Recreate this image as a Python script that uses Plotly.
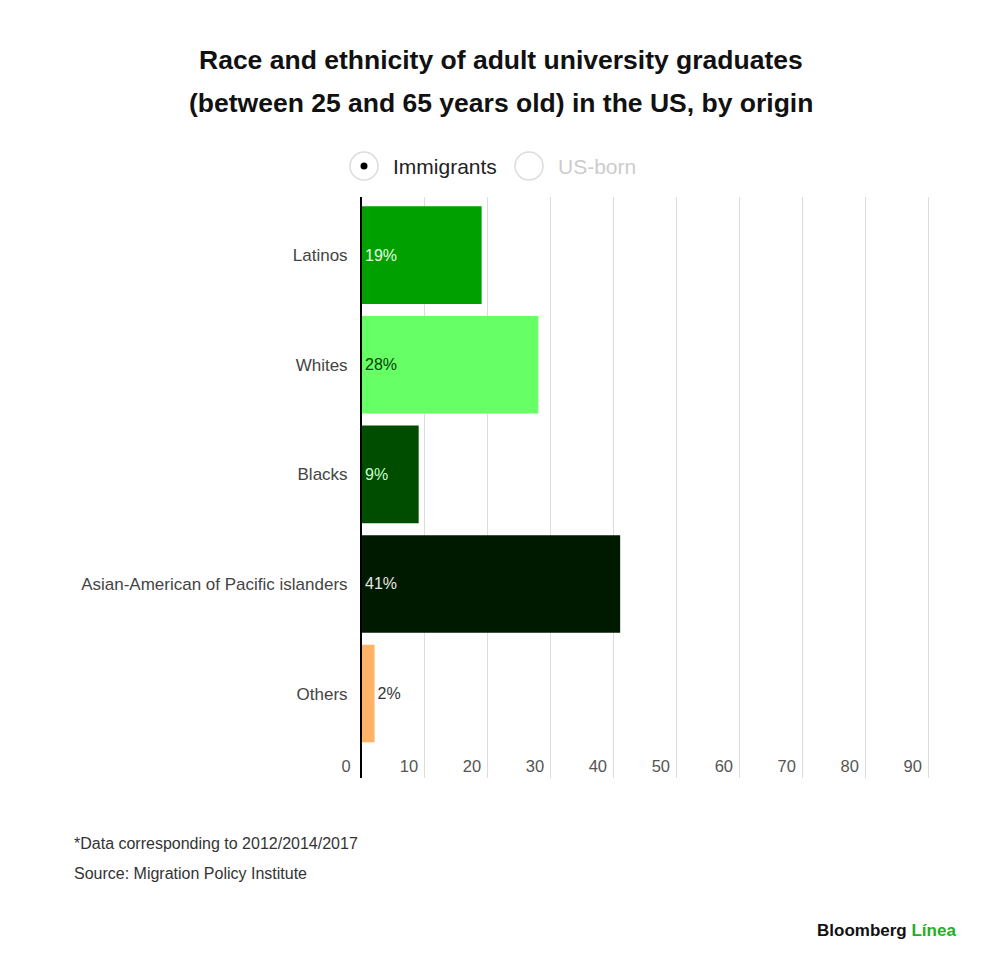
import plotly.graph_objects as go

# ── Data ──────────────────────────────────────────────────────────────────────
categories = ['Latinos', 'Whites', 'Blacks',
              'Asian-American of Pacific islanders', 'Others']
values = [19, 28, 9, 41, 2]
tick_vals = [0, 10, 20, 30, 40, 50, 60, 70, 80, 90]

bar_colors = ['#00a000', '#66ff66', '#004d00', '#001a00', '#ffb366']
text_colors = ['#e0ffe0', '#0b3d0b', '#c8ffc8', '#e6e6e6', '#333333']
text_pos = ['inside', 'inside', 'inside', 'inside', 'outside']

FONT = 'Liberation Sans, Arial, sans-serif'

# ── Pixel helpers ─────────────────────────────────────────────────────────────
# page body adds an 8px margin, so everything is laid out 8px up/left
OFF = 8
W, H = 1000 - OFF, 974 - OFF
L, R, T, B = 362 - OFF, 935 - OFF, 197 - OFF, 778 - OFF

def px(x):
    return (x - OFF - L) / (R - L)

def py(y):
    return (B - (y - OFF)) / (B - T)

# ── Figure ────────────────────────────────────────────────────────────────────
fig = go.Figure()

fig.add_trace(go.Bar(
    x=values,
    y=categories,
    orientation='h',
    marker=dict(color=bar_colors, line=dict(width=0)),
    text=[f'{v}%' for v in values],
    textposition=text_pos,
    insidetextanchor='start',
    textfont=dict(family=FONT, size=16, color=text_colors),
    cliponaxis=False,
    showlegend=False,
    hoverinfo='skip',
))

fig.update_layout(
    width=W, height=H,
    margin=dict(l=L, r=W - R, t=T, b=H - B),
    paper_bgcolor='white',
    plot_bgcolor='white',
    bargap=0.11,
    font=dict(family=FONT, color='#333333'),
    xaxis=dict(
        range=[0, 91],
        tickvals=tick_vals,
        showgrid=True,
        gridcolor='#dcdcdc',
        gridwidth=1,
        zeroline=False,
        showline=False,
        ticks='',
        ticklen=0,
        ticklabelposition='inside',
        ticklabelshift=-16,
        ticklabeloverflow='allow',
        tickfont=dict(family=FONT, size=16.5, color='#555555'),
    ),
    yaxis=dict(
        type='category',
        categoryorder='array',
        categoryarray=categories,
        range=[4.77, -0.53],
        showgrid=False,
        zeroline=False,
        showline=True,
        linecolor='black',
        linewidth=2,
        ticks='',
        ticklabelstandoff=9,
        tickfont=dict(family=FONT, size=17, color='#444444'),
    ),
)

# ── Title ─────────────────────────────────────────────────────────────────────
for text, y in [('Race and ethnicity of adult university graduates', 60),
                ('(between 25 and 65 years old) in the US, by origin', 103)]:
    fig.add_annotation(
        text=f'<b>{text}</b>', xref='paper', yref='paper',
        x=px(501), y=py(y), xanchor='center', yanchor='middle',
        showarrow=False,
        font=dict(family=FONT, size=26.5, color='#111111'),
    )

# ── Radio-style legend ───────────────────────────────────────────────────────
for cx in (364, 529):
    fig.add_shape(
        type='circle', xref='paper', yref='paper',
        xsizemode='pixel', ysizemode='pixel',
        xanchor=px(cx), yanchor=py(166),
        x0=-14, x1=14, y0=-14, y1=14,
        line=dict(color='#dddddd', width=1.5), fillcolor='white',
    )
fig.add_shape(
    type='circle', xref='paper', yref='paper',
    xsizemode='pixel', ysizemode='pixel',
    xanchor=px(364), yanchor=py(166),
    x0=-3.5, x1=3.5, y0=-3.5, y1=3.5,
    line=dict(color='black', width=0), fillcolor='black',
)
fig.add_annotation(
    text='Immigrants', xref='paper', yref='paper',
    x=px(391), y=py(166), xanchor='left', yanchor='middle', showarrow=False,
    font=dict(family=FONT, size=21, color='#222222'),
)
fig.add_annotation(
    text='US-born', xref='paper', yref='paper',
    x=px(556), y=py(166), xanchor='left', yanchor='middle', showarrow=False,
    font=dict(family=FONT, size=21, color='#cccccc'),
)

# ── Footnotes ─────────────────────────────────────────────────────────────────
for text, y in [('*Data corresponding to 2012/2014/2017', 843),
                ('Source: Migration Policy Institute', 873)]:
    fig.add_annotation(
        text=text, xref='paper', yref='paper',
        x=px(72), y=py(y), xanchor='left', yanchor='middle', showarrow=False,
        font=dict(family=FONT, size=16, color='#333333'),
    )

fig.add_annotation(
    text='<b>Bloomberg</b> <b><span style="color:#22b022">Línea</span></b>',
    xref='paper', yref='paper',
    x=px(958), y=py(930), xanchor='right', yanchor='middle', showarrow=False,
    font=dict(family=FONT, size=17, color='#111111'),
)

fig.write_html('out.html')
